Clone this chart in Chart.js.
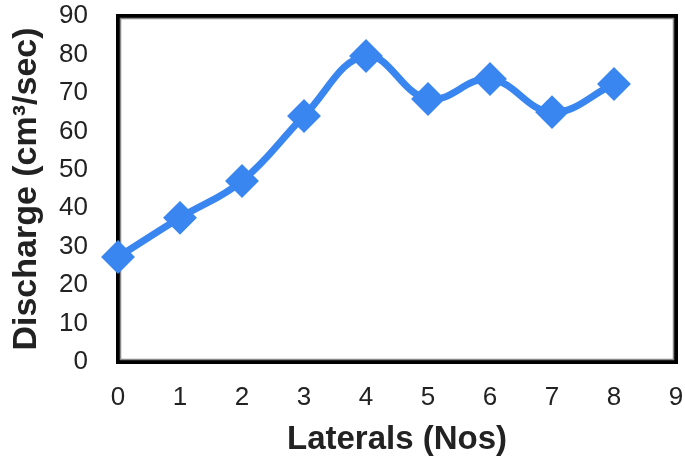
<!DOCTYPE html>
<html lang="en">
<head>
    <meta charset="UTF-8">
    <title>Discharge vs Laterals</title>
    <style>
        html, body { margin: 0; padding: 0; background: #fff; }
        .wrap { width: 685px; height: 470px; }
    </style>
</head>
<body>
    <div class="wrap">
        <canvas id="dischargeChart" width="685" height="470"></canvas>
    </div>

    <script src="https://cdn.jsdelivr.net/npm/chart.js@4.4.9/dist/chart.umd.min.js"></script>
    <script>
    const laterals = [0, 1, 2, 3, 4, 5, 6, 7, 8];
    const discharge = [27.3, 37.5, 47.1, 64.0, 79.6, 68.4, 73.6, 65.0, 72.3];
    const xTicks = [0, 1, 2, 3, 4, 5, 6, 7, 8, 9];
    const yTicks = [0, 10, 20, 30, 40, 50, 60, 70, 80, 90];

    // black frame round the plot area, with a thin grey line inside it
    const frame = {
        id: 'frame',
        beforeDatasetsDraw(chart) {
            const { ctx, chartArea: a } = chart;
            ctx.save();
            ctx.strokeStyle = '#000';
            ctx.lineWidth = 4;
            ctx.strokeRect(a.left, a.top, a.right - a.left, a.bottom - a.top);
            ctx.strokeStyle = '#888';
            ctx.lineWidth = 1.5;
            ctx.strokeRect(a.left + 2.5, a.top + 2.5, a.right - a.left - 5, a.bottom - a.top - 5);
            ctx.restore();
        }
    };

    const ctx = document.getElementById('dischargeChart').getContext('2d');
    new Chart(ctx, {
        type: 'line',
        data: {
            datasets: [{
                data: laterals.map((x, i) => ({ x: x, y: discharge[i] })),
                borderColor: '#3a86f0',
                backgroundColor: '#3a86f0',
                borderWidth: 7,
                pointStyle: 'rectRot',
                pointRadius: 12,
                pointHoverRadius: 12,
                tension: 0.4,
                clip: false
            }]
        },
        options: {
            responsive: false,
            animation: false,
            layout: { autoPadding: false, padding: { top: 16, right: 9, left: 2, bottom: 6 } },
            plugins: {
                legend: { display: false },
                tooltip: { enabled: false }
            },
            scales: {
                x: {
                    type: 'linear',
                    min: 0,
                    max: 9,
                    afterBuildTicks: axis => { axis.ticks = xTicks.map(v => ({ value: v })); },
                    afterFit: axis => { axis.height = 102; axis.paddingLeft = 0; axis.paddingRight = 0; },
                    grid: { display: false },
                    border: { display: false },
                    ticks: { autoSkip: false, maxRotation: 0, color: '#222', padding: 12, font: { family: 'Liberation Sans', size: 26 } },
                    title: {
                        display: true,
                        text: 'Laterals (Nos)',
                        color: '#222',
                        padding: { top: 18 },
                        font: { family: 'Liberation Sans', size: 33, weight: 'bold' }
                    }
                },
                y: {
                    min: 0,
                    max: 90,
                    afterBuildTicks: axis => { axis.ticks = yTicks.map(v => ({ value: v })); },
                    afterFit: axis => { axis.width = 116; axis.paddingTop = 0; axis.paddingBottom = 0; },
                    grid: { display: false },
                    border: { display: false },
                    ticks: { autoSkip: false, color: '#222', padding: 22, font: { family: 'Liberation Sans', size: 26 } },
                    title: {
                        display: true,
                        text: 'Discharge (cm³/sec)',
                        color: '#222',
                        padding: { bottom: 6 },
                        font: { family: 'Liberation Sans', size: 34, weight: 'bold' }
                    }
                }
            }
        },
        plugins: [frame]
    });
    </script>
</body>
</html>
